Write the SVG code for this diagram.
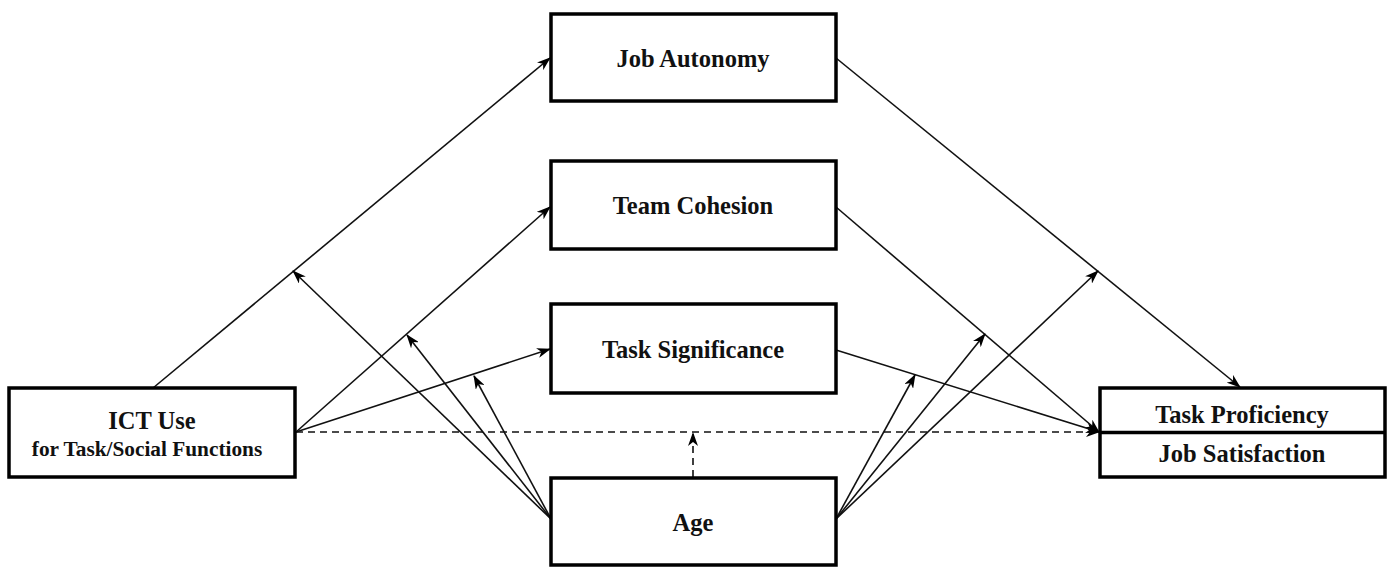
<svg xmlns="http://www.w3.org/2000/svg" width="1392" height="567" viewBox="0 0 1392 567">
<style>
.box{fill:#fff;stroke:#000;stroke-width:3.5}
.t{font-family:"Liberation Serif","Times New Roman",serif;font-weight:bold;font-size:24.5px;fill:#111;text-anchor:middle}
.s{font-size:21.3px}
.c{fill:none;stroke:#111;stroke-width:1.6}
.d{stroke-dasharray:7,5}
</style>
<defs>
<marker id="ah" viewBox="0 0 14 10" refX="13" refY="5" markerWidth="14" markerHeight="10" markerUnits="userSpaceOnUse" orient="auto">
<path d="M0,0 L14,5 L0,10 L4,5 z" fill="#000"/>
</marker>
</defs>
<rect width="1392" height="567" fill="#fff"/>
<g id="connectors">
<line class="c" x1="153" y1="388" x2="550" y2="58" marker-end="url(#ah)"/>
<line class="c" x1="296" y1="432" x2="550" y2="207" marker-end="url(#ah)"/>
<line class="c" x1="296" y1="432" x2="550" y2="349" marker-end="url(#ah)"/>
<line class="c d" x1="296" y1="432" x2="1099" y2="432" marker-end="url(#ah)"/>
<line class="c" x1="836" y1="58" x2="1240" y2="387" marker-end="url(#ah)"/>
<line class="c" x1="836" y1="207" x2="1099" y2="432" marker-end="url(#ah)"/>
<line class="c" x1="836" y1="350" x2="1099" y2="432" marker-end="url(#ah)"/>
<line class="c d" x1="693" y1="477" x2="693" y2="433" marker-end="url(#ah)"/>
<line class="c" x1="551" y1="519" x2="293" y2="271" marker-end="url(#ah)"/>
<line class="c" x1="551" y1="519" x2="407" y2="335" marker-end="url(#ah)"/>
<line class="c" x1="551" y1="519" x2="474" y2="376" marker-end="url(#ah)"/>
<line class="c" x1="836" y1="519" x2="915" y2="375" marker-end="url(#ah)"/>
<line class="c" x1="836" y1="519" x2="985" y2="334" marker-end="url(#ah)"/>
<line class="c" x1="836" y1="519" x2="1098" y2="271" marker-end="url(#ah)"/>
</g>
<g id="ict">
<rect class="box" x="9" y="388" width="286" height="89"/>
<text class="t" x="152" y="429">ICT Use</text>
<text class="t s" x="147" y="456">for Task/Social Functions</text>
</g>
<g id="job-autonomy">
<rect class="box" x="551" y="14" width="285" height="87"/>
<text class="t" x="693" y="67">Job Autonomy</text>
</g>
<g id="team-cohesion">
<rect class="box" x="551" y="161" width="285" height="88"/>
<text class="t" x="693" y="214">Team Cohesion</text>
</g>
<g id="task-significance">
<rect class="box" x="551" y="304" width="285" height="89"/>
<text class="t" x="693" y="358">Task Significance</text>
</g>
<g id="age">
<rect class="box" x="551" y="478" width="285" height="87"/>
<text class="t" x="693" y="531">Age</text>
</g>
<g id="outcomes">
<rect class="box" x="1100" y="388" width="285" height="89"/>
<line x1="1100" y1="432.5" x2="1385" y2="432.5" stroke="#000" stroke-width="3.5"/>
<text class="t" x="1242" y="423">Task Proficiency</text>
<text class="t" x="1242" y="462">Job Satisfaction</text>
</g>
</svg>
